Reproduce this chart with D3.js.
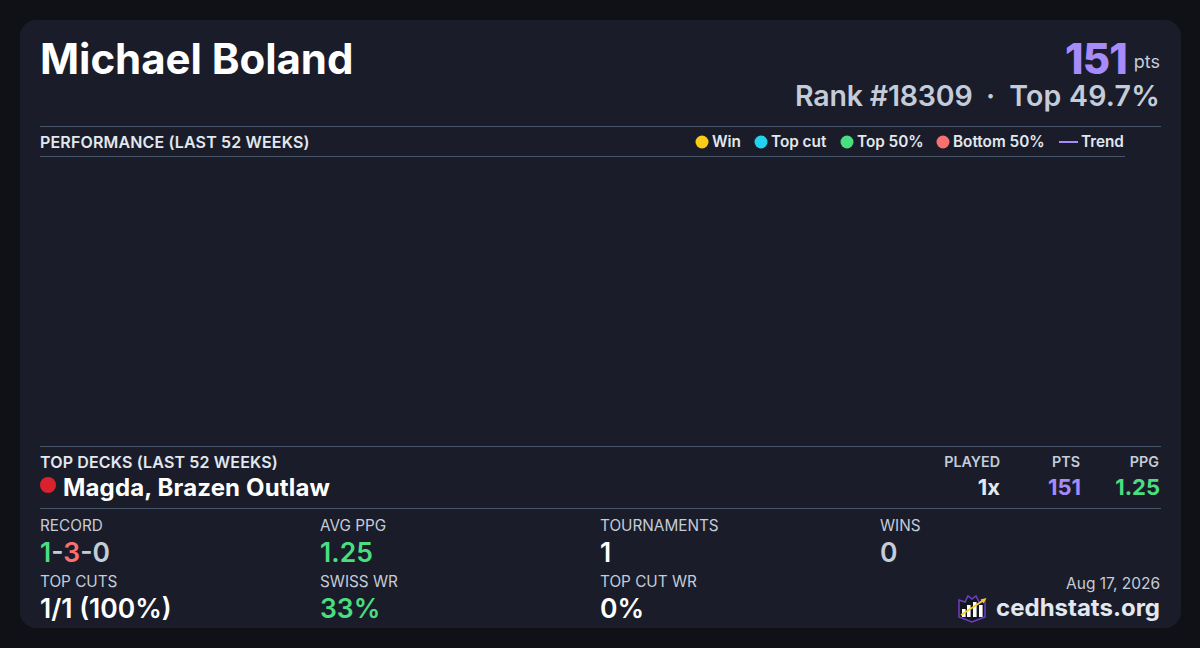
<!DOCTYPE html>
<html><head><meta charset="utf-8">
<script src="https://cdn.jsdelivr.net/npm/d3@7"></script>
<style>html,body{margin:0;padding:0;background:#0f1117;overflow:hidden}svg{display:block}text{font-family:Inter,sans-serif;font-optical-sizing:none;white-space:pre}</style>
</head><body><svg id="c" width="1200" height="648"></svg>
<script>
const playerName = "Michael Boland";
const points = 151;
const rankParts = ["Rank #18309","·","Top 49.7%"];
const legendLabels = ["Win","Top cut","Top 50%","Bottom 50%"];
const legendColors = ["#facc15","#22d3ee","#4ade80","#f87171"];
const legendX = [702,761,847,943];
const weeklyPoints = [];
const deckName = "Magda, Brazen Outlaw";
const deckHeaders = ["PLAYED","PTS","PPG"];
const deckValues = ["1x","151","1.25"];
const deckColors = ["#e2e8f0","#a78bfa","#4ade80"];
const deckX = [1000,1081,1160];
const statLabels = ["RECORD","AVG PPG","TOURNAMENTS","WINS","TOP CUTS","SWISS WR","TOP CUT WR"];
const statValues = ["","1.25","1","0","1/1 (100%)","33%","0%"];
const statColors = ["","#4ade80","#ffffff","#c5ccd9","#ffffff","#4ade80","#ffffff"];
const statX = [40,320,600,880,40,320,600];
const statY = [531,531,531,531,587,587,587];
const recordParts = [["1","#4ade80"],["-","#c5ccd9"],["3","#f87171"],["-","#c5ccd9"],["0","#c5ccd9"]];

const grey = "#c5ccd9";
const svg = d3.select("#c");
function t(x,y,s,size,weight,fill,anchor,g){
  return (g||svg).append("text").attr("x",x).attr("y",y).text(s).attr("font-size",size)
    .attr("font-weight",weight).attr("fill",fill).attr("text-anchor",anchor||"start");
}
function line(x1,x2,y){svg.append("line").attr("x1",x1).attr("x2",x2).attr("y1",y+.5).attr("y2",y+.5).attr("stroke","#475569");}

svg.append("rect").attr("x",20).attr("y",20).attr("width",1161).attr("height",608).attr("rx",16).attr("fill","#1a1d29");

t(40,73.6,playerName,42,700,"#ffffff").attr("letter-spacing",-.05);
t(1127,73.6,points,42,800,"#a78bfa","end").attr("letter-spacing",-.8);
t(1160,68,"pts",18,400,grey,"end");
t(795,106,rankParts[0],28.5,600,grey).attr("letter-spacing",-.18);
t(990.5,106,rankParts[1],28.5,600,grey,"middle");
t(1160,106,rankParts[2],28.5,600,grey,"end").attr("letter-spacing",.22);

line(40,1161,126);
t(40,148,"PERFORMANCE (LAST 52 WEEKS)",16,600,"#e2e8f0").attr("letter-spacing",.15);
line(40,1125,156);

// legend
const lg = svg.append("g");
legendLabels.forEach((d,i)=>{
  lg.append("circle").attr("cx",legendX[i]).attr("cy",142).attr("r",6.5).attr("fill",legendColors[i]);
  t(legendX[i]+10,147,d,15.3,600,"#e2e8f0","start",lg);
});
lg.append("line").attr("x1",1059).attr("x2",1078).attr("y1",142).attr("y2",142).attr("stroke","#a78bfa").attr("stroke-width",2);
t(1081,147,"Trend",15.3,600,"#e2e8f0","start",lg);

// performance plot (no games in window drawn)
const xScale = d3.scaleLinear().domain([0,51]).range([50,1115]);
const yScale = d3.scaleLinear().domain([0,1]).range([436,166]);
svg.append("g").selectAll("circle").data(weeklyPoints).join("circle")
  .attr("cx",d=>xScale(d[0])).attr("cy",d=>yScale(d[1])).attr("r",4);

line(40,1161,446);
t(40,468,"TOP DECKS (LAST 52 WEEKS)",16,600,"#e2e8f0").attr("letter-spacing",.15);
deckHeaders.forEach((d,i)=>t(deckX[i]-(i?1:0),467,d,14.3,600,grey,"end"));
svg.append("circle").attr("cx",48).attr("cy",485).attr("r",8).attr("fill","#d8232f");
t(63,496,deckName,24,700,"#ffffff").attr("letter-spacing",.15);
deckValues.forEach((d,i)=>t(deckX[i],495,d,22,700,deckColors[i],"end"));
line(40,1161,508);

statLabels.forEach((d,i)=>{
  t(statX[i],statY[i],d,15.3,400,grey);
  if(statValues[i]) t(statX[i],statY[i]+31,statValues[i],26.5,600,statColors[i]);
});
const rec = t(40,562,"",26.5,600,"#fff");
rec.selectAll("tspan").data(recordParts).join("tspan").text(d=>d[0]).attr("fill",d=>d[1]);

t(1160,589,"Aug 17, 2026",15.5,400,grey,"end");
t(1160,616,"cedhstats.org",24,700,"#e2e8f0","end");

// logo
const logo = svg.append("g").attr("transform","translate(958,594)");
logo.append("path").attr("d","M1 6 L7 8 L10 2 L14 5 L18 2 L21 8 L27 6 L27 23 L14 28 L1 23 Z")
  .attr("fill","#14161f").attr("stroke","#6d3fc4").attr("stroke-width",1.5);
const logoBars = [[4,15],[9,11],[15,8],[21,11]];
logo.selectAll("rect").data(logoBars).join("rect").attr("x",d=>d[0]).attr("y",d=>d[1]).attr("width",3.6).attr("height",d=>23-d[1]).attr("fill","#fff");
logo.append("line").attr("x1",3).attr("y1",21).attr("x2",26).attr("y2",6).attr("stroke","#facc15").attr("stroke-width",1.6);
logo.append("path").attr("d","M28.5 4 L22.5 5.5 L25.5 9.5 Z").attr("fill","#facc15");
</script></body></html>
